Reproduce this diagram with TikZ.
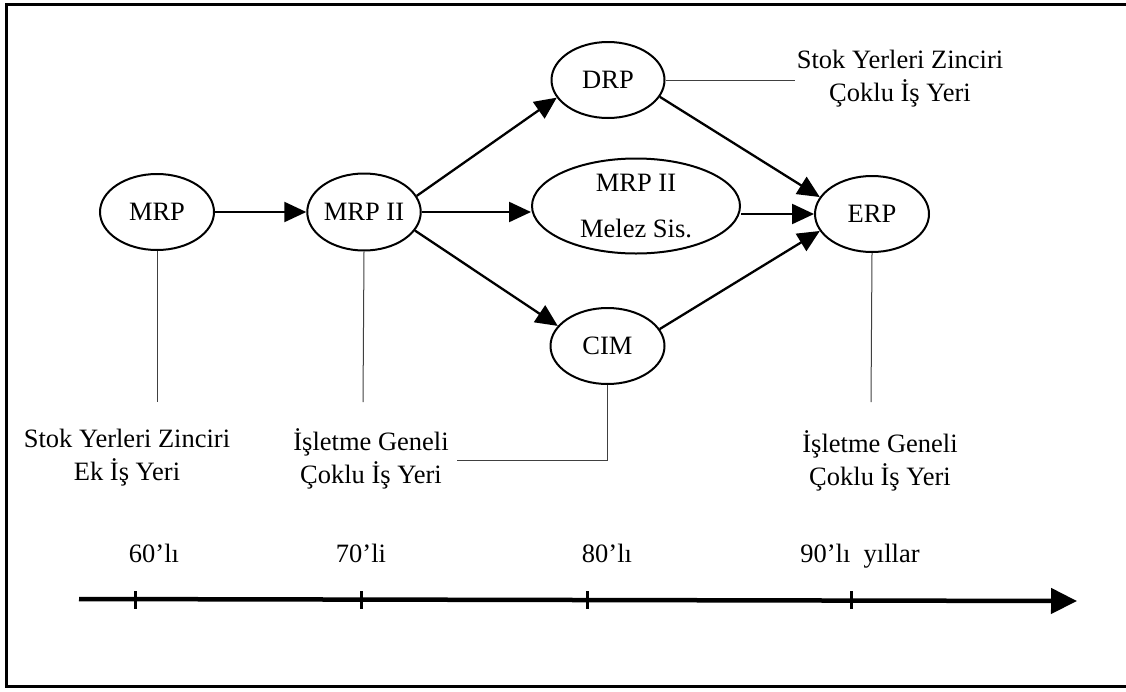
\documentclass[tikz,border=0pt]{standalone}
\usepackage{fontspec}
\setmainfont{Liberation Serif}
\usetikzlibrary{shapes.geometric,arrows.meta}
\begin{document}
\begin{tikzpicture}[x=1pt,y=-1pt,
  txt/.style={font=\fontsize{26.5}{33}\selectfont, align=center, inner sep=0pt},
  ell/.style={draw, line width=2pt, ellipse, inner sep=0pt, font=\fontsize{26.5}{46}\selectfont, align=center},
  arr/.style={line width=2.3pt, -{Triangle[length=22pt,width=20pt]}},
  thinln/.style={line width=1pt, black!75},
  axis/.style={line width=4.5pt, -{Triangle[length=26pt,width=25pt]}},
  tick/.style={line width=3pt}
]
\useasboundingbox (0,0) rectangle (1126,691);
% frame
\draw[line width=3pt] (1126,4) -- (6,4) -- (6,686) -- (1126,686);

% nodes
\node[ell, minimum width=114pt, minimum height=76pt] (mrp) at (157,212) {MRP};
\node[ell, minimum width=113pt, minimum height=77pt] (mrpii) at (364,212) {MRP II};
\node[ell, minimum width=113pt, minimum height=76pt] (drp) at (608,80) {DRP};
\node[ell, minimum width=208pt, minimum height=95pt] (melez) at (636,206) {MRP II\\Melez Sis.};
\node[ell, minimum width=114pt, minimum height=76pt] (cim) at (607.5,346) {CIM};
\node[ell, minimum width=114pt, minimum height=76pt] (erp) at (872,214) {ERP};

% arrows
\draw[arr] (mrp.east) -- (mrpii.west);
\draw[arr] (mrpii.17) -- (drp.199);
\draw[arr] (mrpii.east) -- (mrpii.east -| melez.west);
\draw[arr] (mrpii.340) -- (cim.158);
\draw[arr] (drp.342) -- (erp.162);
\draw[arr] (melez.east |- erp.west) -- (erp.west);
\draw[arr] (cim.18) -- (erp.198);

% annotation texts
\node[txt] (t1) at (127,458) {Stok Yerleri Zinciri\\Ek İş Yeri};
\node[txt] (t2) at (371,459) {İşletme Geneli\\Çoklu İş Yeri};
\node[txt] (t3) at (880,461) {İşletme Geneli\\Çoklu İş Yeri};
\node[txt] (t4) at (900,79) {Stok Yerleri Zinciri\\Çoklu İş Yeri};

% thin connector lines
\coordinate (e1) at (157,402);
\coordinate (e2) at (363,402);
\coordinate (e3) at (871,402);
\coordinate (e4) at (457,460);
\coordinate (e5) at (795,80);
\draw[thinln] (mrp.south) -- (e1);
\draw[thinln] (mrpii.south) -- (e2);
\draw[thinln] (erp.south) -- (e3);
\draw[thinln] (cim.south) |- (e4);
\draw[thinln] (drp.east) -- (e5);

% timeline
\coordinate (a0) at (79,599);
\coordinate (a1) at (1077,601);
\draw[axis] (a0) -- (a1);
\foreach \x in {135,361,587,851} {
  \draw[tick] (\x,591) -- (\x,609);
}
\node[txt, anchor=base] (y60) at (154,562) {60’lı};
\node[txt, anchor=base] (y70) at (361,562) {70’li};
\node[txt, anchor=base] (y80) at (607,562) {80’lı};
\node[txt, anchor=base] (y90) at (860,562) {90’lı\ \ yıllar};
\end{tikzpicture}
\end{document}
